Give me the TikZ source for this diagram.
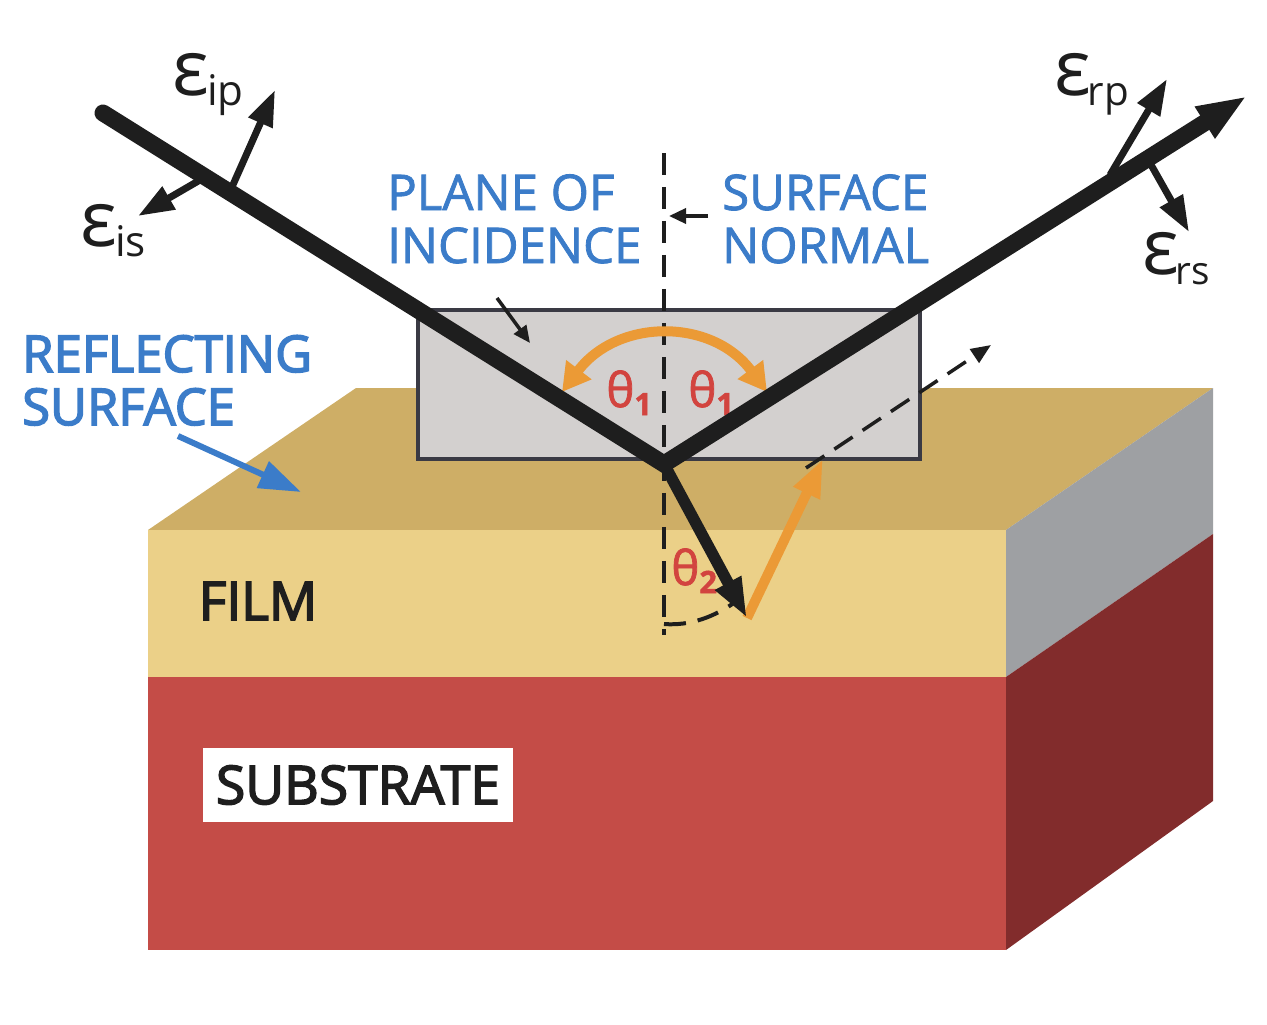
\documentclass[tikz,border=0pt]{standalone}
\usepackage{fontspec}
\setmainfont{Open Sans}
\newfontfamily\medfont[FakeBold=1.6]{Open Sans}
\newfontfamily\semifont[FakeBold=3]{Open Sans}
\usetikzlibrary{arrows.meta}
\definecolor{topface}{HTML}{CEAE66}
\definecolor{filmface}{HTML}{EBD088}
\definecolor{subface}{HTML}{C44C47}
\definecolor{greyside}{HTML}{9EA0A3}
\definecolor{redside}{HTML}{822C2C}
\definecolor{planefill}{HTML}{D3D0CF}
\definecolor{planeedge}{HTML}{3A3A44}
\definecolor{inkblack}{HTML}{1E1E1E}
\definecolor{labelblue}{HTML}{3B7CC9}
\definecolor{anglered}{HTML}{D2443F}
\definecolor{beamorange}{HTML}{EB9A36}
\begin{document}
\begin{tikzpicture}[
            x=0.02cm, y=-0.02cm,
            ray/.style={line width=0.34cm, draw=inkblack, line cap=round, -{Triangle[length=1cm,width=0.68cm]}},
            refracted/.style={line width=0.23cm, draw=inkblack, -{Triangle[length=0.8cm,width=0.54cm]}},
            bounce/.style={line width=0.2cm, draw=beamorange, -{Triangle[length=0.76cm,width=0.54cm]}},
            swing/.style={line width=0.2cm, draw=beamorange, {Triangle[length=0.56cm,width=0.6cm]}-{Triangle[length=0.56cm,width=0.6cm]}},
            field/.style={line width=0.14cm, draw=inkblack, -{Triangle[length=0.72cm,width=0.5cm]}},
            pointer/.style={line width=0.07cm, draw=inkblack, -{Triangle[length=0.34cm,width=0.3cm]}},
            normal/.style={line width=0.08cm, draw=inkblack, dash pattern=on 0.44cm off 0.24cm},
            bluetext/.style={text=labelblue, font=\medfont\fontsize{28}{30}\selectfont, anchor=base west},
            bluebold/.style={text=labelblue, font=\semifont\fontsize{28.9}{30}\selectfont, anchor=base west},
            darktext/.style={text=inkblack, font=\semifont\fontsize{30.4}{32}\selectfont},
            epsilon/.style={text=inkblack, font=\fontsize{44}{46}\selectfont, anchor=base west, inner sep=0pt},
            angletext/.style={text=anglered, font=\medfont\fontsize{27}{30}\selectfont, anchor=base west, inner sep=0pt}
        ]
            \useasboundingbox (0,0) rectangle (1267,1024);

            % Block
            \fill[topface] (148,530) -- (356,388) -- (1213,388) -- (1006,530) -- cycle;
            \fill[filmface] (148,530) rectangle (1006,677);
            \fill[subface] (148,677) rectangle (1006,950);
            \fill[greyside] (1006,530) -- (1213,388) -- (1213,534) -- (1006,677) -- cycle;
            \fill[redside] (1006,677) -- (1213,534) -- (1213,801) -- (1006,950) -- cycle;
            \filldraw[fill=planefill, draw=planeedge, line width=0.08cm] (418,310) rectangle (920,459);

            % Points
            \coordinate (start) at (103,113);
            \coordinate (hit) at (664,464);
            \coordinate (out) at (1247,96);
            \coordinate (bottom) at (747,618);
            \coordinate (exit) at (823,459);
            \coordinate (ghostA) at (806,468);
            \coordinate (ghostB) at (991,345);
            \coordinate (normalA) at (664,153);
            \coordinate (normalB) at (664,635);
            \coordinate (footA) at (664,624);
            \coordinate (footB) at (738,600);
            \coordinate (swingA) at (562,392);
            \coordinate (swingB) at (767,392);

            % Labels
            \node[bluetext] (plane) at (381,210) {PLANE OF};
            \node[bluetext] (incidence) at (381,263) {INCIDENCE};
            \node[bluetext] (surface) at (716,210) {SURFACE};
            \node[bluetext] (normaltxt) at (716,263) {NORMAL};
            \node[bluebold] (reflecting) at (16,372) {REFLECTING};
            \node[bluebold] (reflsurf) at (16,425) {SURFACE};
            \node[darktext] (film) at (258,601) {FILM};
            \node[darktext, fill=white, minimum width=6.2cm, minimum height=1.48cm, inner sep=0pt] (substrate) at (358,785) {SUBSTRATE};
            \node[epsilon] (eip) at (172,95) {ε\kern-1pt\raisebox{-0.21cm}{\fontsize{24}{30}\selectfont ip}};
            \node[epsilon] (eis) at (80,246) {ε\kern-1pt\raisebox{-0.21cm}{\fontsize{24}{30}\selectfont is}};
            \node[epsilon] (erp) at (1054,95) {ε\kern-2pt\raisebox{-0.21cm}{\fontsize{23}{30}\selectfont rp}};
            \node[epsilon] (ers) at (1142,274) {ε\kern-2pt\raisebox{-0.21cm}{\fontsize{22}{30}\selectfont rs}};
            \node[angletext] (thetaL) at (606,407) {θ\raisebox{-0.16cm}{\fontsize{17.5}{18}\selectfont\bfseries 1}};
            \node[angletext] (thetaR) at (688,407) {θ\raisebox{-0.16cm}{\fontsize{17.5}{18}\selectfont\bfseries 1}};
            \node[angletext] (thetaB) at (671,585) {θ\raisebox{-0.16cm}{\fontsize{17.5}{18}\selectfont\bfseries 2}};

            % Field arrows
            \coordinate (ipA) at (232,187);
            \coordinate (ipB) at (275,90);
            \coordinate (isA) at (200,180);
            \coordinate (isB) at (138,216);
            \coordinate (rpA) at (1110,175);
            \coordinate (rpB) at (1167,79);
            \coordinate (rsA) at (1150,163);
            \coordinate (rsB) at (1189,232);
            \draw[field] (ipA) -- (ipB);
            \draw[field] (isA) -- (isB);
            \draw[field] (rpA) -- (rpB);
            \draw[field] (rsA) -- (rsB);

            % Normal and pointers
            \draw[normal] (normalA) -- (normalB);
            \draw[normal] (footA) .. controls (690,626) and (715,617) .. (footB);
            \draw[line width=0.07cm, draw=inkblack, dash pattern=on 0.44cm off 0.24cm, -{Triangle[length=0.4cm,width=0.32cm]}] (ghostA) -- (ghostB);
            \coordinate (ptrA) at (497,298);
            \coordinate (ptrB) at (530,343);
            \coordinate (ptrC) at (708,216);
            \coordinate (ptrD) at (669,216);
            \coordinate (ptrE) at (178,436);
            \coordinate (ptrF) at (301,492);
            \draw[pointer] (ptrA) -- (ptrB);
            \draw[pointer] (ptrC) -- (ptrD);
            \draw[line width=0.12cm, draw=labelblue, -{Triangle[length=0.84cm,width=0.56cm]}] (ptrE) -- (ptrF);

            % Beams
            \draw[swing] (swingA) .. controls (618,318) and (712,318) .. (swingB);
            \draw[bounce] (bottom) -- (exit);
            \draw[refracted] (hit) -- (bottom);
            \draw[ray] (start) -- (hit) -- (out);
        \end{tikzpicture}
\end{document}
